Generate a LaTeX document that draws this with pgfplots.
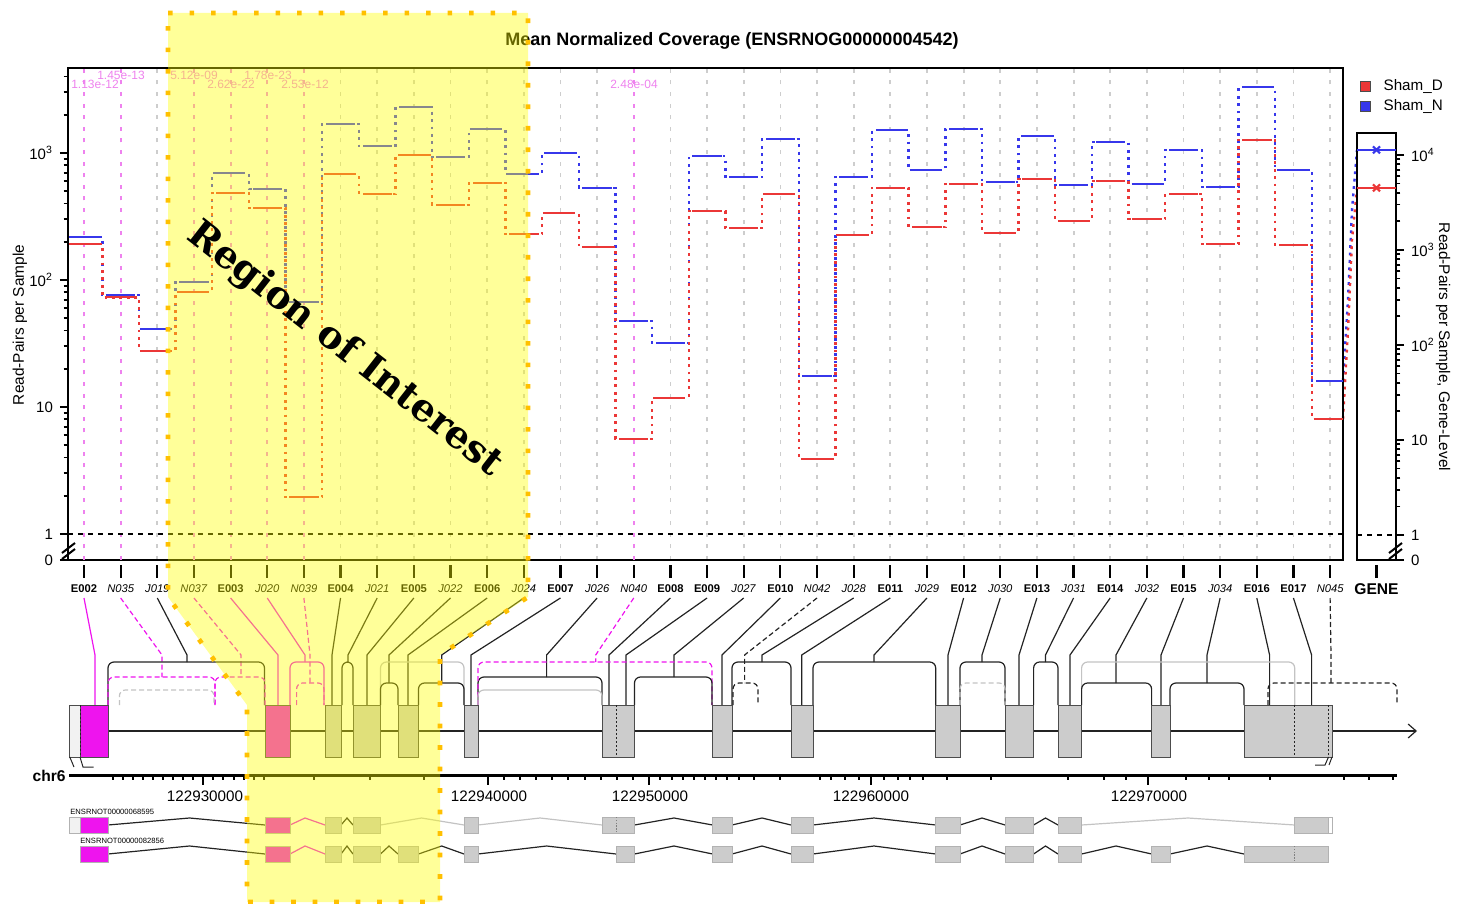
\documentclass[border=0pt]{standalone}
\usepackage{pgfplots}
\pgfplotsset{compat=1.18}
\usepackage{pgfplotstable}
\usepackage{fontspec}
\setmainfont{Liberation Sans}
\newfontfamily\roifont{DejaVu Serif}
\usetikzlibrary{arrows.meta}

\definecolor{cRed}{RGB}{235,55,55}
\definecolor{cBlue}{RGB}{55,55,235}
\definecolor{cMag}{RGB}{238,20,238}
\definecolor{cViol}{RGB}{238,130,238}
\definecolor{cGrid}{RGB}{205,205,205}
\definecolor{cExon}{RGB}{204,204,204}
\definecolor{cLine}{RGB}{35,35,35}
\definecolor{cLGray}{RGB}{195,195,195}
\definecolor{cOrange}{RGB}{255,192,0}
\definecolor{cYel}{RGB}{255,255,0}
\definecolor{cPale}{RGB}{242,242,242}

\pgfplotstableread{
x y
0 192
1 73
2 27.6
3 80.5
4 484
5 369
6 1.95
7 683
8 476
9 965
10 390
11 581
12 230
13 337
14 182
15 5.6
16 11.8
17 349
18 256
19 476
20 3.9
21 226
22 530
23 261
24 570
25 234
26 624
27 292
28 602
29 302
30 476
31 192
32 1265
33 189
34 8.05
}\shamD

\pgfplotstableread{
x y
0 218
1 76
2 41
3 96
4 697
5 521
6 67
7 1690
8 1135
9 2300
10 930
11 1545
12 683
13 1000
14 530
15 47.5
16 31.9
17 946
18 647
19 1290
20 17.5
21 647
22 1517
23 735
24 1545
25 591
26 1361
27 560
28 1222
29 570
30 1056
31 540
32 3311
33 735
34 16
}\shamN

\tikzset{
  jb/.style={cLine, line width=0.6pt},
  jbd/.style={cLine, line width=0.6pt, dash pattern=on 2.5pt off 1.5pt},
  jm/.style={cMag, line width=0.6pt},
  jmd/.style={cMag, line width=0.6pt, dash pattern=on 2.5pt off 1.5pt},
  jg/.style={cLGray, line width=0.6pt},
  jgd/.style={cLGray, line width=0.6pt, dash pattern=on 2.5pt off 1.5pt},
  covdot/.style={line width=1.2pt, dash pattern=on 1.4pt off 2.3pt},
}
\pgfplotsset{
  canvas/.style={at={(0,0)}, anchor=south west, x=0.5pt, y=0.5pt, y dir=reverse,
    xmin=0, xmax=1457, ymin=0, ymax=904, hide axis, clip=false, scale only axis},
}
% exon box: x1 x2 fill
\newcommand{\exon}[3]{\addplot[fill=#3, draw=black!70, line width=0.5pt] coordinates {(#1,705)(#2,705)(#2,757)(#1,757)} --cycle;}
% transcript box: x1 x2 ytop ybot fill
\newcommand{\tbox}[5]{\addplot[fill=#5, draw=black!30, line width=0.4pt] coordinates {(#1,#3)(#2,#3)(#2,#4)(#1,#4)} --cycle;}
% hat: x1 xp x2 ybase ypeak style
\newcommand{\thatl}[6]{\addplot[#6] coordinates {(#1,#4)(#2,#5)(#3,#4)};}
% junction arc: xa xb height style
\newcommand{\arcj}[4]{\addplot[#4, rounded corners=3pt] coordinates {(#1,705)(#1,#3)(#2,#3)(#2,705)};}
% connector: xtop xbottom yend style
\newcommand{\conn}[4]{\addplot[#4] coordinates {(#1,598)(#2,655)(#2,#3)};}

\begin{document}
\begin{tikzpicture}
\useasboundingbox (0,0) rectangle (728.5pt,452pt);

% ---------------- background canvas ----------------
\begin{axis}[canvas]
\node[font=\bfseries\fontsize{9}{10}\selectfont] at (axis cs:732,41) {Mean Normalized Coverage (ENSRNOG00000004542)};
\node[rotate=90, font=\fontsize{7.7}{8}\selectfont] at (axis cs:20,325) {Read-Pairs per Sample};
\node[rotate=-90, font=\fontsize{7.7}{8}\selectfont] at (axis cs:1443,347) {Read-Pairs per Sample, Gene-Level};
% p-value labels
\begin{scope}[every node/.style={font=\fontsize{6}{6}\selectfont, text=cViol, inner sep=0pt}]
\node at (axis cs:95,84) {1.13e-12};
\node at (axis cs:121,75) {1.45e-13};
\node at (axis cs:194,75) {5.12e-09};
\node at (axis cs:231,84) {2.62e-22};
\node at (axis cs:268,75) {1.78e-23};
\node at (axis cs:305,84) {2.53e-12};
\node at (axis cs:634,84) {2.48e-04};
\end{scope}
% transitions to gene-level panel
\addplot[cBlue, covdot] coordinates {(1343,381)(1348,300)(1352,210)(1357,150)};
\addplot[cRed, covdot] coordinates {(1343,419)(1348,330)(1352,240)(1357,188)};
% x tick marks of both panels
\addplot[draw=none, error bars/.cd, y dir=plus, y fixed=13, error mark=none,
  error bar style={draw=black, line width=1.1pt}] coordinates {
(84,565)(120.65,565)(157.3,565)(193.95,565)(230.6,565)(267.25,565)(303.9,565)(340.55,565)(377.2,565)(413.85,565)
(450.5,565)(487.15,565)(523.8,565)(560.45,565)(597.1,565)(633.75,565)(670.4,565)(707.05,565)(743.7,565)(780.35,565)
(817,565)(853.65,565)(890.3,565)(926.95,565)(963.6,565)(1000.25,565)(1036.9,565)(1073.55,565)(1110.2,565)(1146.85,565)
(1183.5,565)(1220.15,565)(1256.8,565)(1293.45,565)(1330.1,565)(1376.5,565)};

% connectors from feature labels
\conn{84}{95}{705}{jm}
\conn{120.65}{162}{677}{jmd}
\conn{157.3}{187}{662}{jb}
\conn{193.95}{241}{677}{jmd}
\conn{230.6}{278}{705}{jm}
\conn{267.25}{305}{662}{jm}
\conn{303.9}{310}{683}{jmd}
\conn{340.55}{332}{705}{jb}
\conn{377.2}{348}{662}{jb}
\conn{413.85}{367}{705}{jb}
\conn{450.5}{389}{683}{jb}
\conn{487.15}{408}{705}{jb}
\conn{523.8}{441.7}{683}{jb}
\conn{560.45}{471}{705}{jb}
\conn{597.1}{546.6}{677}{jb}
\conn{633.75}{595.7}{662}{jmd}
\conn{670.4}{609}{705}{jb}
\conn{707.05}{626}{705}{jb}
\conn{743.7}{674}{677}{jb}
\conn{780.35}{722}{705}{jb}
\conn{817}{744.6}{683}{jbd}
\conn{853.65}{762}{662}{jb}
\conn{890.3}{801.7}{705}{jb}
\conn{926.95}{874}{662}{jb}
\conn{963.6}{948}{705}{jb}
\conn{1000.25}{982}{662}{jb}
\conn{1036.9}{1019}{705}{jb}
\conn{1073.55}{1045.5}{662}{jb}
\conn{1110.2}{1070}{705}{jb}
\conn{1146.85}{1116}{683}{jb}
\conn{1183.5}{1161}{705}{jb}
\conn{1220.15}{1207}{683}{jb}
\conn{1256.8}{1269.6}{705}{jb}
\conn{1293.45}{1311.6}{705}{jb}
\conn{1330.1}{1331}{683}{jbd}

% junction arcs
\arcj{108}{264.5}{662}{jb}
\arcj{108}{215}{677}{jmd}
\arcj{215}{265}{677}{jmd}
\arcj{119.4}{214}{690}{jgd}
\arcj{290}{324}{662}{jm}
\arcj{296.6}{324}{683}{jmd}
\arcj{342}{353}{662}{jb}
\arcj{380.5}{464}{662}{jg}
\arcj{380.5}{398}{683}{jb}
\arcj{418.5}{464}{683}{jb}
\arcj{478}{602}{677}{jb}
\arcj{478}{712}{662}{jmd}
\arcj{478}{602}{690}{jg}
\arcj{634.5}{712}{677}{jb}
\arcj{732}{791}{662}{jb}
\arcj{733}{758}{683}{jbd}
\arcj{813}{935.7}{662}{jb}
\arcj{960}{1005}{662}{jb}
\arcj{960}{1005}{683}{jgd}
\arcj{1033.6}{1058}{662}{jb}
\arcj{1081.6}{1294.7}{662}{jg}
\arcj{1081.6}{1151.6}{683}{jb}
\arcj{1170}{1244}{683}{jb}
\arcj{1268}{1397}{683}{jbd}

% intron line and exons
\addplot[cLine, line width=0.6pt, -{Straight Barb[length=4pt,width=7pt]}] coordinates {(108,731)(1417,731)};
\exon{69.8}{80}{cPale}
\exon{80}{108}{cMag}
\exon{265}{290}{cMag}
\exon{325}{341}{cExon}
\exon{353}{380.5}{cExon}
\exon{398}{418.5}{cExon}
\exon{464}{478}{cExon}
\exon{602}{634.5}{cExon}
\exon{712.6}{732}{cExon}
\exon{791}{813}{cExon}
\exon{935.7}{960}{cExon}
\exon{1005}{1033.6}{cExon}
\exon{1058}{1081.6}{cExon}
\exon{1151.6}{1170}{cExon}
\exon{1244}{1332}{cExon}
\addplot[cLine, line width=0.4pt, dash pattern=on 1pt off 1pt] coordinates {(616,705)(616,757)};
\addplot[cLine, line width=0.4pt, dash pattern=on 1pt off 1pt] coordinates {(1294.7,705)(1294.7,757)};
\addplot[cLine, line width=0.4pt, dash pattern=on 1pt off 1pt] coordinates {(1328,705)(1328,757)};
\addplot[cLine, line width=0.4pt, dash pattern=on 1pt off 1pt] coordinates {(80,705)(80,757)};
\addplot[cLine, line width=0.5pt] coordinates {(69.8,757)(74,767)};
\addplot[cLine, line width=0.5pt] coordinates {(80,757)(83,767)(93.5,767)};
\addplot[cLine, line width=0.5pt] coordinates {(1328.5,757)(1325,765)(1315,765)};
\addplot[cLine, line width=0.5pt] coordinates {(1332,757)(1329,765)};

% genomic axis
\addplot[black, line width=1.5pt] coordinates {(69,775)(1397,775)};
\addplot[draw=none, error bars/.cd, y dir=plus, y fixed=5, error mark=none,
  error bar style={draw=black, line width=0.8pt}] coordinates {
(113,775)(123,775)(133,775)(143,775)(153,775)(163,775)(173,775)(183,775)(193,775)
(213,775)(223,775)(234,775)(244,775)(254,775)(264,775)(314,775)(370,775)(424,775)
(504,775)(520,775)(536,775)(552,775)(568,775)(585,775)(601,775)(617,775)(633,775)
(660,775)(672,775)(683,775)(694,775)(705,775)(716,775)(727,775)(739,775)(754,775)(780,775)(820,775)(831,775)(845,775)(859,775)
(884,775)(898,775)(910,775)(923,775)(947,775)(991,775)(1068,775)(1104,775)(1126,775)
(1186,775)(1209,775)(1229,775)(1270,775)(1344,775)(1369,775)(1393,775)};
\addplot[draw=none, error bars/.cd, y dir=plus, y fixed=10, error mark=none,
  error bar style={draw=black, line width=1.1pt}] coordinates {(203,775)(488,775)(649,775)(871,775)(1148,775)};
\node[anchor=east, inner sep=0pt, font=\bfseries\fontsize{7.8}{8}\selectfont] at (axis cs:66,776) {chr6};
\begin{scope}[every node/.style={font=\fontsize{7.6}{8}\selectfont, inner sep=0pt}]
\node at (axis cs:205,796) {122930000};
\node at (axis cs:489,796) {122940000};
\node at (axis cs:650,796) {122950000};
\node at (axis cs:871,796) {122960000};
\node at (axis cs:1149,796) {122970000};
\end{scope}

% transcripts
\node[anchor=south west, inner sep=0pt, font=\fontsize{3.8}{4}\selectfont] at (axis cs:70,815) {ENSRNOT00000068595};
\node[anchor=south west, inner sep=0pt, font=\fontsize{3.8}{4}\selectfont] at (axis cs:80,844) {ENSRNOT00000082856};
% row 1 lines
\thatl{108}{189.5}{265}{825}{818}{jb}
\thatl{290}{305}{325}{825}{818}{jm}
\thatl{341}{347}{353}{825}{818}{jb}
\thatl{380.5}{421.6}{464}{825}{818}{jg}
\thatl{478}{540}{602}{825}{818}{jg}
\thatl{634.5}{674}{712.6}{825}{818}{jb}
\thatl{732}{762}{791}{825}{818}{jb}
\thatl{813}{874}{935.7}{825}{818}{jb}
\thatl{960}{982}{1005}{825}{818}{jb}
\thatl{1033.6}{1045.5}{1058}{825}{818}{jb}
\thatl{1081.6}{1188}{1294.7}{825}{818}{jg}
% row 1 boxes
\tbox{69.8}{80}{817}{833}{cPale}
\tbox{80}{108}{817}{833}{cMag}
\tbox{265}{290}{817}{833}{cMag}
\tbox{325}{341}{817}{833}{cExon}
\tbox{353}{380.5}{817}{833}{cExon}
\tbox{464}{478}{817}{833}{cExon}
\tbox{602}{634.5}{817}{833}{cExon}
\tbox{712.6}{732}{817}{833}{cExon}
\tbox{791}{813}{817}{833}{cExon}
\tbox{935.7}{960}{817}{833}{cExon}
\tbox{1005}{1033.6}{817}{833}{cExon}
\tbox{1058}{1081.6}{817}{833}{cExon}
\tbox{1294.7}{1328}{817}{833}{cExon}
\tbox{1328}{1332}{817}{833}{white}
\addplot[black!50, line width=0.3pt, dash pattern=on 0.7pt off 0.7pt] coordinates {(616,817)(616,833)};
% row 2 lines
\thatl{108}{189.5}{265}{854}{846}{jb}
\thatl{290}{305}{325}{854}{846}{jm}
\thatl{341}{347}{353}{854}{846}{jb}
\thatl{380.5}{389}{398}{854}{846}{jb}
\thatl{418.5}{441.7}{464}{854}{846}{jb}
\thatl{478}{546.6}{616}{854}{846}{jb}
\thatl{634.5}{674}{712.6}{854}{846}{jb}
\thatl{732}{762}{791}{854}{846}{jb}
\thatl{813}{874}{935.7}{854}{846}{jb}
\thatl{960}{982}{1005}{854}{846}{jb}
\thatl{1033.6}{1045.5}{1058}{854}{846}{jb}
\thatl{1081.6}{1116}{1151.6}{854}{846}{jb}
\thatl{1170}{1207}{1244}{854}{846}{jb}
% row 2 boxes
\tbox{80}{108}{846}{862}{cMag}
\tbox{265}{290}{846}{862}{cMag}
\tbox{325}{341}{846}{862}{cExon}
\tbox{353}{380.5}{846}{862}{cExon}
\tbox{398}{418.5}{846}{862}{cExon}
\tbox{464}{478}{846}{862}{cExon}
\tbox{616}{634.5}{846}{862}{cExon}
\tbox{712.6}{732}{846}{862}{cExon}
\tbox{791}{813}{846}{862}{cExon}
\tbox{935.7}{960}{846}{862}{cExon}
\tbox{1005}{1033.6}{846}{862}{cExon}
\tbox{1058}{1081.6}{846}{862}{cExon}
\tbox{1151.6}{1170}{846}{862}{cExon}
\tbox{1244}{1328.5}{846}{862}{cExon}
\addplot[black!50, line width=0.3pt, dash pattern=on 0.7pt off 0.7pt] coordinates {(1294.7,846)(1294.7,862)};
\end{axis}

% ---------------- main coverage axis ----------------
\begin{axis}[
  at={(34pt,172pt)}, anchor=south west, scale only axis,
  width=637.5pt, height=246pt,
  xmin=-0.437, xmax=34.35,
  ymode=log, ymin=0.624, ymax=4670,
  axis line style={black, line width=1pt},
  xtick={0,1,...,34},
  xticklabels={\textbf{E002},\textit{N035},\textit{J019},\textit{N037},\textbf{E003},\textit{J020},\textit{N039},\textbf{E004},\textit{J021},\textbf{E005},\textit{J022},\textbf{E006},\textit{J024},\textbf{E007},\textit{J026},\textit{N040},\textbf{E008},\textbf{E009},\textit{J027},\textbf{E010},\textit{N042},\textit{J028},\textbf{E011},\textit{J029},\textbf{E012},\textit{J030},\textbf{E013},\textit{J031},\textbf{E014},\textit{J032},\textbf{E015},\textit{J034},\textbf{E016},\textbf{E017},\textit{N045}},
  x tick label style={font=\fontsize{5.6}{6}\selectfont, inner sep=1pt, yshift=-7pt},
  xtick style={draw=none},
  ytick={0.624,1,10,100,1000},
  yticklabels={0,1,10,10\textsuperscript{2},10\textsuperscript{3}},
  minor ytick={2,3,4,5,6,7,8,9,20,30,40,50,60,70,80,90,200,300,400,500,600,700,800,900,2000,3000,4000},
  y tick label style={font=\fontsize{7.5}{8}\selectfont},
  tick align=outside, xtick pos=left, ytick pos=left,
  major tick length=4pt, minor tick length=2.2pt,
  ytick style={black, line width=0.9pt},
  xmajorgrids, major x grid style={cGrid, line width=0.9pt, dash pattern=on 2pt off 3.8pt},
  legend style={at={(1.0135,0.985)}, anchor=north west, draw=none, fill=none,
    font=\fontsize{7.6}{9}\selectfont, row sep=-1pt, inner sep=0pt},
  legend cell align=left,
]
\addlegendimage{only marks, mark=square*, mark size=2.5pt, mark options={fill=cRed, draw=black!70, line width=0.5pt}}
\addlegendentry{\hspace{4.5pt}Sham\_D}
\addlegendimage{only marks, mark=square*, mark size=2.5pt, mark options={fill=cBlue, draw=black!70, line width=0.5pt}}
\addlegendentry{\hspace{4.5pt}Sham\_N}
% highlighted feature lines
\addplot[cViol, line width=0.9pt, dash pattern=on 2pt off 3.8pt, forget plot] coordinates {(0,0.624)(0,4670)};
\addplot[cViol, line width=0.9pt, dash pattern=on 2pt off 3.8pt, forget plot] coordinates {(1,0.624)(1,4670)};
\addplot[cViol, line width=0.9pt, dash pattern=on 2pt off 3.8pt, forget plot] coordinates {(3,0.624)(3,4670)};
\addplot[cViol, line width=0.9pt, dash pattern=on 2pt off 3.8pt, forget plot] coordinates {(4,0.624)(4,4670)};
\addplot[cViol, line width=0.9pt, dash pattern=on 2pt off 3.8pt, forget plot] coordinates {(5,0.624)(5,4670)};
\addplot[cViol, line width=0.9pt, dash pattern=on 2pt off 3.8pt, forget plot] coordinates {(6,0.624)(6,4670)};
\addplot[cViol, line width=0.9pt, dash pattern=on 2pt off 3.8pt, forget plot] coordinates {(15,0.624)(15,4670)};
\addplot[black, line width=0.8pt, dash pattern=on 2.5pt off 2.5pt, forget plot] coordinates {(-0.437,1)(34.35,1)};
% series
\addplot[cBlue, covdot, const plot mark mid, forget plot] table[x=x,y=y]{\shamN};
\addplot[draw=none, forget plot, error bars/.cd, x dir=both, x fixed=0.4, error mark=none,
  error bar style={draw=cBlue, line width=1.1pt, solid}] table[x=x,y=y]{\shamN};
\addplot[cRed, covdot, const plot mark mid, forget plot] table[x=x,y=y]{\shamD};
\addplot[draw=none, forget plot, error bars/.cd, x dir=both, x fixed=0.4, error mark=none,
  error bar style={draw=cRed, line width=1.1pt, solid}] table[x=x,y=y]{\shamD};
\end{axis}

% ---------------- gene-level axis ----------------
\begin{axis}[
  at={(678.5pt,172pt)}, anchor=south west, scale only axis,
  width=19.5pt, height=213.5pt,
  xmin=0, xmax=1, xtick={0.5}, xticklabels={\textbf{GENE}},
  x tick label style={font=\fontsize{7.8}{8}\selectfont, inner sep=1pt, yshift=-6.5pt},
  xtick style={draw=none},
  ymode=log, ymin=0.546, ymax=17000,
  ytick={0.546,1,10,100,1000,10000},
  yticklabels={0,1,10,10\textsuperscript{2},10\textsuperscript{3},10\textsuperscript{4}},
  minor ytick={2,3,4,5,6,7,8,9,20,30,40,50,60,70,80,90,200,300,400,500,600,700,800,900,2000,3000,4000,5000,6000,7000,8000,9000},
  y tick label style={font=\fontsize{7.5}{8}\selectfont},
  yticklabel pos=right, ytick pos=right, xtick pos=left,
  tick align=outside, major tick length=4pt, minor tick length=2.2pt,
  ytick style={black, line width=0.9pt},
  axis line style={black, line width=1pt},
]
\addplot[black, line width=0.8pt, dash pattern=on 2.5pt off 2.5pt] coordinates {(0,1)(1,1)};
\addplot[cBlue, line width=1.1pt, mark=x, mark indices={2}, mark size=2.5pt, mark options={solid}] coordinates {(0,11290)(0.5,11290)(1,11290)};
\addplot[cRed, line width=1.1pt, mark=x, mark indices={2}, mark size=2.5pt, mark options={solid}] coordinates {(0,4494)(0.5,4494)(1,4494)};
\end{axis}

% ---------------- overlay ----------------
\begin{axis}[canvas]
\addplot[draw=none, fill=cYel, fill opacity=0.4] coordinates {(168,13)(528,13)(528,597)(440,655)(440,902)(247,902)(247,705)(168,597)} --cycle;
\addplot[cOrange, line width=2.35pt, dash pattern=on 2.35pt off 8.4pt] coordinates {(168,13)(528,13)(528,597)(440,655)(440,902)(247,902)(247,705)(168,597)} --cycle;
\node[rotate=-38, font=\roifont\bfseries\fontsize{19}{19}\selectfont] at (axis cs:345,350) {Region of Interest};
% axis break marks
\addplot[black, line width=1pt] coordinates {(62,553)(75,543)};
\addplot[black, line width=1pt] coordinates {(62,559)(75,549)};
\addplot[black, line width=1pt] coordinates {(1389,553)(1402,543)};
\addplot[black, line width=1pt] coordinates {(1389,559)(1402,549)};
\end{axis}
\end{tikzpicture}
\end{document}
